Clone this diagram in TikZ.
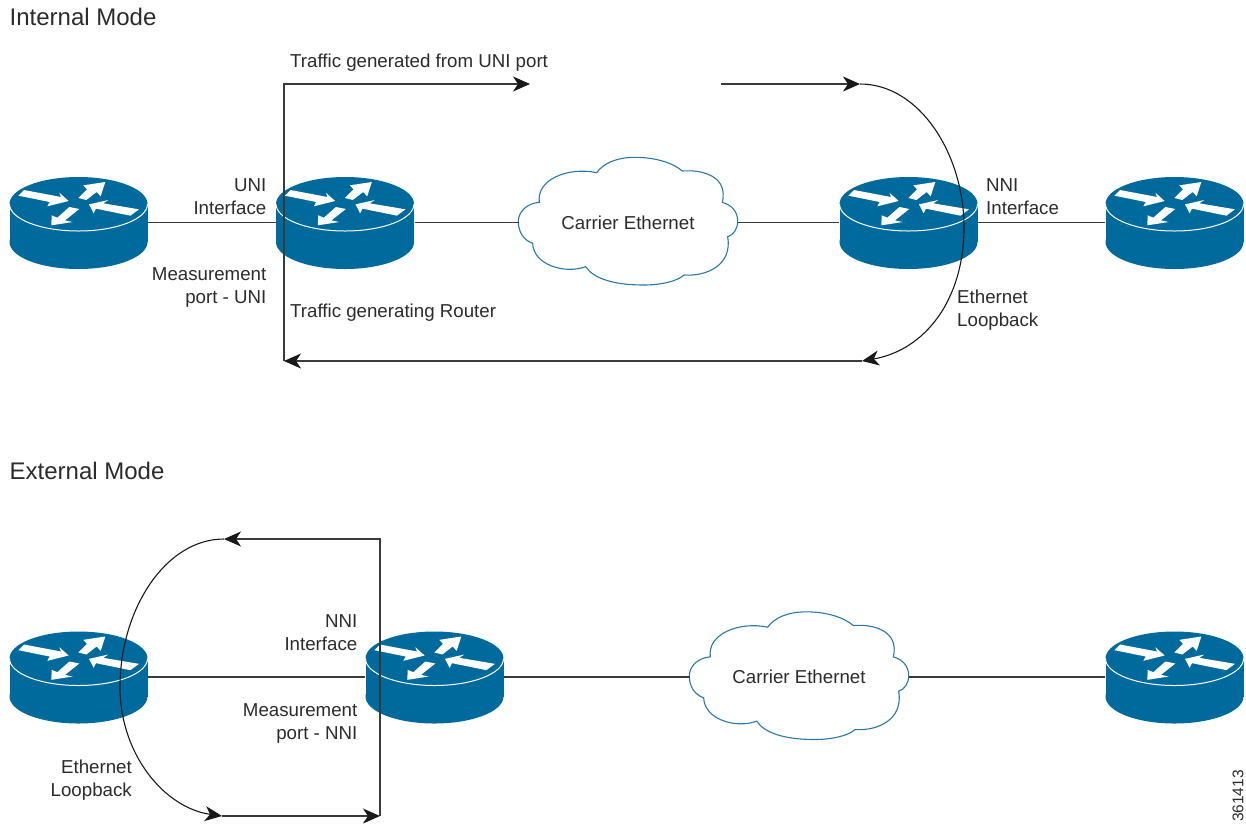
\documentclass[tikz,border=0pt]{standalone}
\usepackage{fontspec}
\setmainfont{Liberation Sans}
\usetikzlibrary{arrows.meta}
\definecolor{routerblue}{HTML}{006A9C}
\definecolor{cloudblue}{HTML}{2A78A8}
\definecolor{inkgrey}{HTML}{2B2B2B}
\definecolor{wiregrey}{HTML}{3A3A3A}
\tikzset{
  x=1pt,y=-1pt,
  router/.pic={
    \fill[routerblue] (0,-19) ellipse[x radius=69,y radius=27];
    \fill[routerblue] (-69,-19) rectangle (69,19);
    \fill[routerblue] (0,19) ellipse[x radius=69,y radius=27];
    \draw[white,line width=1pt] (-69,-19) .. controls (-69,-4) and (-38,8) .. (0,8) .. controls (38,8) and (69,-4) .. (69,-19);
    \begin{scope}[shift={(-58.5,-53)},scale=1/3]
      \fill[white] (-5,77) -- (12,60) -- (123,81) -- (118,68) -- (146,93) -- (82,109) -- (89,96) -- cycle;
      \fill[white] (175,84) -- (201,58) -- (190,46) -- (256,36) -- (242,79) -- (230,66) -- (199,90) -- cycle;
      \fill[white] (207,103) -- (265,90) -- (250,100) -- (357,118) -- (331,137) -- (228,116) -- (221,130) -- cycle;
      \fill[white] (94,166) -- (95,136) -- (112,143) -- (148,111) -- (178,117) -- (135,151) -- (158,156) -- cycle;
    \end{scope}
  },
  cloudshape/.pic={
    \begin{scope}[shift={(-128,-81)},scale=1/3]
      \draw[cloudblue,line width=1.1pt,fill=white] (290,98)
        .. controls (310,70) and (350,52) .. (405,52)
        .. controls (470,52) and (520,70) .. (547,93)
        .. controls (610,88) and (685,110) .. (667,187)
        .. controls (695,195) and (713,215) .. (713,243)
        .. controls (713,268) and (700,285) .. (683,290)
        .. controls (698,375) and (620,410) .. (552,405)
        .. controls (530,425) and (480,435) .. (430,435)
        .. controls (340,435) and (280,415) .. (257,380)
        .. controls (195,403) and (100,375) .. (98,310)
        .. controls (70,300) and (55,275) .. (55,245)
        .. controls (55,215) and (80,190) .. (118,187)
        .. controls (108,118) and (205,80) .. (290,98) -- cycle;
    \end{scope}
  },
  routerbox/.style={minimum width=139pt,minimum height=92pt,inner sep=0pt,outer sep=0pt},
  cloudbox/.style={minimum width=219pt,minimum height=128pt,inner sep=0pt,outer sep=0pt,text=inkgrey,font=\fontsize{18.7}{23}\selectfont},
  wire/.style={wiregrey,line width=1.1pt},
  flow/.style={wiregrey,line width=1.1pt,-{Stealth[length=17pt,width=15pt,inset=5pt,fill=black!90,color=black!90]}},
  loopflow/.style={black!90,line width=1.1pt,-{Stealth[length=17pt,width=15pt,inset=5pt,fill=black!90]}},
  label/.style={text=inkgrey,inner sep=0pt,font=\fontsize{18.7}{23}\selectfont},
  heading/.style={text=inkgrey,inner sep=0pt,anchor=west,font=\fontsize{24}{28}\selectfont},
}
\begin{document}
\begin{tikzpicture}
\useasboundingbox (0,0) rectangle (1246,823);
% routers and clouds
\pic at (78.5,223) {router};
\pic at (345,223) {router};
\pic at (908.5,223) {router};
\pic at (1174.5,223) {router};
\pic at (628,221) {cloudshape};
\pic at (78.5,677.5) {router};
\pic at (434.5,677.5) {router};
\pic at (1174.5,677.5) {router};
\pic at (799,675.5) {cloudshape};
\node[routerbox] (r1) at (78.5,222.5) {};
\node[routerbox] (r2) at (345,222.5) {};
\node[cloudbox] (c1) at (628,222.5) {Carrier Ethernet};
\node[routerbox] (r3) at (908.5,222.5) {};
\node[routerbox] (r4) at (1174.5,222.5) {};
\node[routerbox] (r5) at (78.5,677) {};
\node[routerbox] (r6) at (434.5,677) {};
\node[cloudbox] (c2) at (799,677) {Carrier Ethernet};
\node[routerbox] (r7) at (1174.5,677) {};
% wires
\draw[wire] (r1) -- (r2);
\draw[wire] (r2) -- (c1);
\draw[wire] (c1) -- (r3);
\draw[wire] (r3) -- (r4);
\draw[wire] (r5) -- (r6);
\draw[wire] (r6) -- (c2);
\draw[wire] (c2) -- (r7);
% internal mode flows
\coordinate (iBL) at (284,361);
\coordinate (iTL) at (284,84);
\coordinate (iTM) at (530,84);
\coordinate (iTN) at (721,84);
\coordinate (iTR) at (860,84);
\coordinate (iBR) at (862,361);
\draw[flow] (iBL) -- (iTL) -- (iTM);
\draw[flow] (iTN) -- (iTR);
\draw[loopflow] (iTR) .. controls (920,84) and (964,155) .. (964,227) .. controls (964,300) and (925,350) .. (iBR);
\draw[flow] (iBR) -- (iBL);
% external mode flows
\coordinate (eTR) at (380,539);
\coordinate (eBR) at (380,816);
\coordinate (eTL) at (224,539);
\coordinate (eBL) at (222,816);
\draw[flow] (eBR) -- (eTR) -- (eTL);
\draw[loopflow] (eTL) .. controls (165,539) and (120,610) .. (120,687) .. controls (120,755) and (165,808) .. (eBL);
\draw[flow] (eBL) -- (eBR);
% labels
\node[heading] (h1) at (9.5,17) {Internal Mode};
\node[heading] (h2) at (9.5,471) {External Mode};
\node[label,anchor=west] (t1) at (290,63) {Traffic generated from UNI port};
\node[label,anchor=west] (t2) at (290,313) {Traffic generating Router};
\node[label,anchor=east,align=right] (t3) at (266.5,196.5) {UNI\\Interface};
\node[label,anchor=east,align=right] (t4) at (266.5,287.5) {Measurement\\port - UNI};
\node[label,anchor=west,align=left] (t5) at (986,196.5) {NNI\\Interface};
\node[label,anchor=west,align=left] (t6) at (957,310) {Ethernet\\Loopback};
\node[label,anchor=east,align=right] (t7) at (357.5,632.5) {NNI\\Interface};
\node[label,anchor=east,align=right] (t8) at (357.5,723.5) {Measurement\\port - NNI};
\node[label,anchor=east,align=right] (t9) at (132,780) {Ethernet\\Loopback};
\node[text=inkgrey,inner sep=0pt,rotate=90,font=\fontsize{15.5}{18}\selectfont] (t10) at (1238,796) {361413};
\end{tikzpicture}
\end{document}
